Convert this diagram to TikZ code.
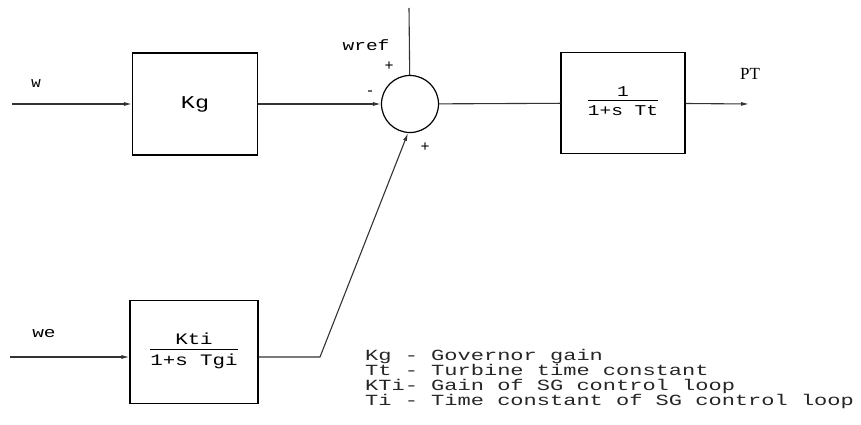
\documentclass[tikz,border=0pt]{standalone}
\usepackage{fontspec}
\setmainfont{Liberation Mono}
\newfontfamily\typefont[FakeStretch=1.3]{Liberation Mono}
\newfontfamily\keyfont[FakeStretch=1.42]{Liberation Mono}
\newfontfamily\serifpt{Liberation Serif}
\usetikzlibrary{arrows.meta,calc,positioning}

\newcommand{\blockfrac}[2]{\begin{tabular}{@{}c@{}}#1\\[-1pt]\hline\rule{0pt}{1.05em}#2\end{tabular}}

\begin{document}
\begin{tikzpicture}[x=1pt,y=-1pt,
    block/.style={draw, line width=1.2pt, inner sep=0pt},
    sig/.style={line width=1.1pt, black!80},
    sigarrow/.style={sig, -{Latex[length=8pt,width=4pt]}},
    sgn/.style={font=\fontsize{15}{15}\selectfont},
    lbl/.style={font=\fontsize{15}{15}\typefont},
    key/.style={anchor=base west, inner sep=0pt, text=black!85,
      font=\fontsize{15.5}{15}\keyfont}]
  \useasboundingbox (0,0) rectangle (861,425);
  % blocks
  \node[block, minimum width=125pt, minimum height=102pt,
    font=\fontsize{18}{18}\typefont] (kg) at (195,104) {Kg};
  \node[block, circle, minimum size=57pt] (sum) at (410,104) {};
  \node[block, minimum width=124pt, minimum height=101pt,
    font=\fontsize{15}{15}\typefont] (tt) at (623,103) {\blockfrac{1}{1+s Tt}};
  \node[block, minimum width=128pt, minimum height=103pt,
    font=\fontsize{16}{16}\typefont] (sg) at (194,352) {\blockfrac{Kti}{1+s Tgi}};
  % signals
  \coordinate (win) at (12,104);
  \coordinate (wtop) at (409,8);
  \coordinate (ptout) at (749,104);
  \coordinate (wein) at (10,357);
  \coordinate (bend) at (320,357);
  \draw[sigarrow] (win) -- (kg);
  \draw[sigarrow] (kg) -- (sum);
  \draw[sig] (wtop) -- (sum);
  \draw[sig] (sum) -- (tt);
  \draw[sigarrow] (tt) -- (ptout);
  \draw[sigarrow] (wein) -- (wein -| sg.west);
  \draw[sigarrow] (sg.east |- bend) -- (bend) -- (sum.-94);
  % labels
  \node[lbl, font=\fontsize{12}{12}\typefont] (w) at (36,84) {W};
  \node[lbl] (wref) at (366,45) {wref};
  \node[lbl, font=\fontsize{17}{17}\serifpt] (pt) at (750,74) {PT};
  \node[lbl] (we) at (44,334) {we};
  \node[sgn] (plusa) at (389,66) {+};
  \node[sgn] (minus) at (370,93) {-};
  \node[sgn] (plusb) at (425,147) {+};
  % legend
  \node[key] (key1) at (365,360) {Kg - Governor gain};
  \node[key] (key2) at (365,375) {Tt - Turbine time constant};
  \node[key] (key3) at (365,390) {KTi- Gain of SG control loop};
  \node[key] (key4) at (365,405) {Ti - Time constant of SG control loop};
\end{tikzpicture}
\end{document}
